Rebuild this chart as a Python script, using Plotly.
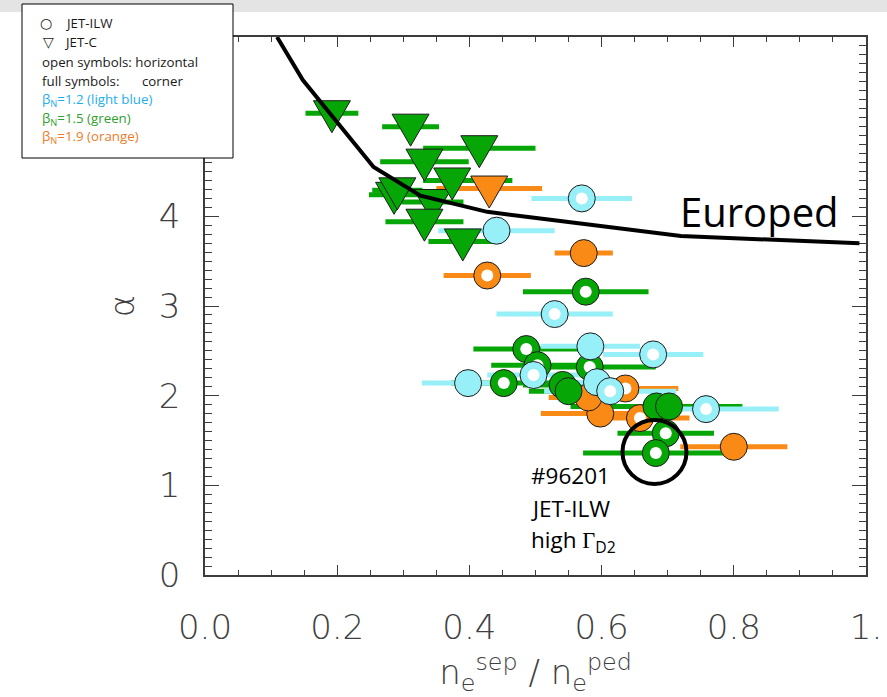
import plotly.graph_objects as go

# ---------------- data ----------------
# Europed prediction
europed_x = [0.109, 0.148, 0.255, 0.326, 0.427, 0.492, 0.72, 0.99]
europed_y = [6.0, 5.52, 4.55, 4.23, 4.05, 3.99, 3.78, 3.70]

# JET-ILW (circles): open = horizontal, full = corner
lb_open_x = [0.570, 0.529, 0.678, 0.497, 0.613, 0.758]
lb_open_y = [4.20, 2.91, 2.46, 2.23, 2.05, 1.85]
lb_open_err = [0.076, 0.088, 0.076, 0.070, 0.100, 0.110]
lb_full_x = [0.441, 0.583, 0.398, 0.593]
lb_full_y = [3.84, 2.55, 2.14, 2.15]
lb_full_err = [0.088, 0.075, 0.070, 0.060]

gr_open_x = [0.576, 0.486, 0.503, 0.582, 0.452, 0.697, 0.682]
gr_open_y = [3.16, 2.52, 2.34, 2.32, 2.14, 1.58, 1.36]
gr_open_err = [0.095, 0.080, 0.070, 0.100, 0.080, 0.073, 0.110]
gr_full_x = [0.541, 0.550, 0.683, 0.702]
gr_full_y = [2.12, 2.05, 1.88, 1.88]
gr_full_err = [0.060, 0.060, 0.130, 0.060]

or_open_x = [0.427, 0.636, 0.658]
or_open_y = [3.34, 2.08, 1.75]
or_open_err = [0.066, 0.080, 0.075]
or_full_x = [0.573, 0.598, 0.580, 0.800]
or_full_y = [3.59, 1.80, 1.98, 1.43]
or_full_err = [0.044, 0.090, 0.060, 0.081]

# JET-C (triangles)
gr_tri_x = [0.192, 0.311, 0.415, 0.344, 0.332, 0.374, 0.286, 0.291, 0.332, 0.390]
gr_tri_y = [5.15, 5.00, 4.76, 4.16, 4.61, 4.40, 4.24, 4.29, 3.94, 3.72]
gr_tri_err_minus = [0.040, 0.043, 0.085, 0.047, 0.067, 0.044, 0.038, 0.038, 0.059, 0.052]
gr_tri_err_plus = [0.040, 0.043, 0.085, 0.047, 0.067, 0.091, 0.038, 0.038, 0.059, 0.052]
or_tri_x = [0.430]
or_tri_y = [4.31]
or_tri_err = [0.080]

# highlighted discharge #96201
hl_x = [0.680]
hl_y = [1.371]

x_tickvals = [0.0, 0.2, 0.4, 0.6, 0.8, 1.0]
x_ticktext = ["0.0", "0.2", "0.4", "0.6", "0.8", "1."]
y_tickvals = [0, 1, 2, 3, 4]
y_ticktext = ["0", "1", "2", "3", "4"]

# ---------------- style ----------------
LB = "#97eff7"
GR = "#06a606"
OR = "#f98a16"
EDGE = "#1c1c1c"
AX = "#3c3c3c"
W, H = 887, 697
ML, MR, MT, MB = 205, 21, 37, 122
PW, PH = W - ML - MR, H - MT - MB
CIRC = 27
HOLE = 12
BAR_W = 5

def pxx(p):
    return (p - ML) / PW

def pxy(p):
    return (H - MB - p) / PH

fig = go.Figure()

# horizontal error bars first so every symbol sits on top of them
def bars(x, y, err, color, err_minus=None):
    ex = dict(type="data", array=err, symmetric=err_minus is None,
              color=color, thickness=BAR_W, width=0)
    if err_minus is not None:
        ex["arrayminus"] = err_minus
    fig.add_trace(go.Scatter(x=x, y=y, mode="markers", error_x=ex,
                             marker=dict(color="rgba(0,0,0,0)", size=1),
                             hoverinfo="skip", showlegend=False))

bars(gr_tri_x, gr_tri_y, gr_tri_err_plus, GR, gr_tri_err_minus)
bars(or_tri_x, or_tri_y, or_tri_err, OR)
bars(or_full_x, or_full_y, or_full_err, OR)
bars(or_open_x, or_open_y, or_open_err, OR)
bars(gr_full_x, gr_full_y, gr_full_err, GR)
bars(gr_open_x, gr_open_y, gr_open_err, GR)
bars(lb_full_x, lb_full_y, lb_full_err, LB)
bars(lb_open_x, lb_open_y, lb_open_err, LB)


def full_circles(x, y, color):
    fig.add_trace(go.Scatter(x=x, y=y, mode="markers", showlegend=False,
                             marker=dict(symbol="circle", size=CIRC, color=color,
                                         line=dict(color=EDGE, width=1))))


def open_circles(x, y, color):
    full_circles(x, y, color)
    fig.add_trace(go.Scatter(x=x, y=y, mode="markers", showlegend=False,
                             marker=dict(symbol="circle", size=HOLE, color="white",
                                         line=dict(width=0))))


full_circles(or_full_x, or_full_y, OR)
open_circles(or_open_x, or_open_y, OR)
full_circles(gr_full_x, gr_full_y, GR)
open_circles(gr_open_x, gr_open_y, GR)
full_circles(lb_full_x, lb_full_y, LB)
open_circles(lb_open_x, lb_open_y, LB)

shapes = []
# grey strip across the top of the page
shapes.append(dict(type="rect", xref="paper", yref="paper", layer="below",
                   x0=pxx(0), x1=pxx(W), y0=pxy(12), y1=pxy(0),
                   fillcolor="#e4e4e4", line=dict(width=0)))

# equilateral down-pointing triangles, sized in pixels around each data point
TRI = "M-18.5,12.5 L18.5,12.5 L0,-19.5 Z"
for tx, ty in zip(gr_tri_x, gr_tri_y):
    shapes.append(dict(type="path", xref="x", yref="y", xsizemode="pixel",
                       ysizemode="pixel", xanchor=tx, yanchor=ty, path=TRI,
                       fillcolor=GR, line=dict(color=EDGE, width=1), layer="above"))
for tx, ty in zip(or_tri_x, or_tri_y):
    shapes.append(dict(type="path", xref="x", yref="y", xsizemode="pixel",
                       ysizemode="pixel", xanchor=tx, yanchor=ty, path=TRI,
                       fillcolor=OR, line=dict(color=EDGE, width=1), layer="above"))

# Europed curve drawn over the symbols
europed_path = "M" + " L".join(f"{a},{b}" for a, b in zip(europed_x, europed_y))
shapes.append(dict(type="path", xref="x", yref="y", path=europed_path,
                   line=dict(color="black", width=4), layer="above"))

# ring around #96201
for cx, cy in zip(hl_x, hl_y):
    shapes.append(dict(type="circle", xref="x", yref="y", xsizemode="pixel",
                       ysizemode="pixel", xanchor=cx, yanchor=cy,
                       x0=-32, x1=32, y0=-32, y1=32,
                       line=dict(color="black", width=4), layer="above"))

# key box
shapes.append(dict(type="rect", xref="paper", yref="paper", layer="above",
                   x0=pxx(22), x1=pxx(233), y0=pxy(158), y1=pxy(4),
                   fillcolor="white", line=dict(color="black", width=1)))

TXT = "Open Sans"
ann = []


def note(px, py, text, size=13.3, color="#1a1a1a", family=TXT, anchor="left"):
    ann.append(dict(xref="paper", yref="paper", x=pxx(px), y=pxy(py), text=text,
                    showarrow=False, xanchor=anchor, yanchor="middle",
                    font=dict(family=family, size=size, color=color)))


note(46, 23, "○", size=14, family="DejaVu Sans", anchor="center")
note(63, 23, "JET-ILW")
note(48, 42, "▽", size=14, family="DejaVu Sans", anchor="center")
note(62, 42, "JET-C")
note(40, 62, "open symbols: horizontal")
note(40, 81, "full symbols:")
note(140, 81, "corner")
note(40, 100, "β<sub>N</sub>=1.2 (light blue)", color="#1eaeea")
note(40, 119, "β<sub>N</sub>=1.5 (green)", color="#2f9f2f")
note(40, 137, "β<sub>N</sub>=1.9 (orange)", color="#ee7b2a")

note(678, 211, "Europed", size=40, color="black")
note(529, 475, "#96201", size=22.5, color="black")
note(529, 508, "JET-ILW", size=22.5, color="black")
note(529, 541, "high <span style=\"font-family:'Liberation Serif'\">Γ</span>"
     "<sub>D2</sub>", size=22.5, color="black")

THIN = dict(family="DejaVu Sans", size=34, color="#404040", weight=200)

fig.update_layout(
    width=W, height=H,
    margin=dict(l=ML, r=MR, t=MT, b=MB, autoexpand=False),
    paper_bgcolor="white", plot_bgcolor="white",
    showlegend=False,
    shapes=shapes, annotations=ann,
    xaxis=dict(range=[0, 1.0], tickvals=x_tickvals, ticktext=x_ticktext,
               ticks="inside", ticklen=10, tickwidth=1.3, tickcolor=AX,
               showline=True, linecolor=AX, linewidth=1.5, mirror="ticks",
               showgrid=False, zeroline=False, tickfont=THIN,
               ticklabelstandoff=21,
               minor=dict(ticks="inside", ticklen=5, dtick=0.05,
                          tickcolor=AX, tickwidth=1, showgrid=False),
               title=dict(text="n<sub>e</sub><sup>sep</sup> / n<sub>e</sub><sup>ped</sup>",
                          font=THIN, standoff=16)),
    yaxis=dict(range=[0, 6], tickvals=y_tickvals, ticktext=y_ticktext,
               ticks="inside", ticklen=14, tickwidth=1.3, tickcolor=AX,
               showline=True, linecolor=AX, linewidth=1.5, mirror="ticks",
               showgrid=False, zeroline=False, tickfont=THIN,
               ticklabelstandoff=16,
               minor=dict(ticks="inside", ticklen=7, dtick=0.1,
                          tickcolor=AX, tickwidth=1, showgrid=False),
               title=dict(text="α", font=THIN, standoff=14)),
)

fig.write_html("out.html")
